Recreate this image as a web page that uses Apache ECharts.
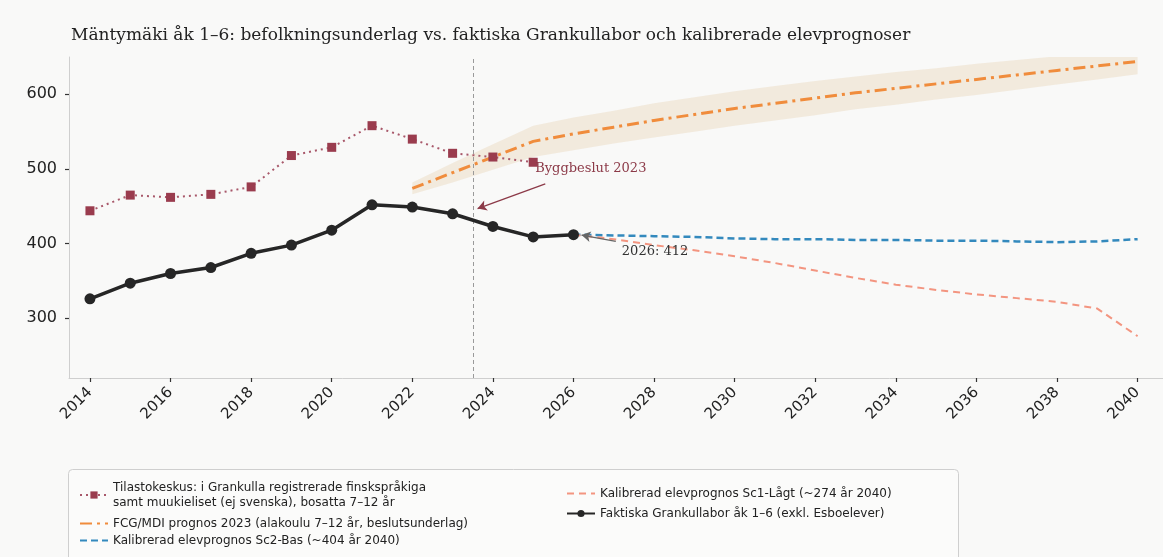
<!DOCTYPE html>
<html>
<head>
<meta charset="utf-8">
<title>Mäntymäki åk 1–6</title>
<script src="https://cdn.jsdelivr.net/npm/echarts@6/dist/echarts.min.js"></script>
<style>
  html, body { margin: 0; padding: 0; background: #f9f9f8; }
  #chart { width: 1163px; height: 557px; }
</style>
</head>
<body>
<div id="chart"></div>
<script>
// Tilastokeskus: finskspråkiga + muukieliset 7-12 år
const tilastoYears = [2014, 2015, 2016, 2017, 2018, 2019, 2020, 2021, 2022, 2023, 2024, 2025]
const tilastoValues = [444, 465, 462, 466, 476, 518, 529, 558, 540, 521, 516, 509]

// faktiska Grankullabor åk 1-6
const faktiskaYears = [2014, 2015, 2016, 2017, 2018, 2019, 2020, 2021, 2022, 2023, 2024, 2025, 2026]
const faktiskaValues = [326, 347, 360, 368, 387, 398, 418, 452, 449, 440, 423, 409, 412]

// FCG/MDI prognos 2023 + osäkerhetsband
const fcgYears = [2022, 2023, 2024, 2025, 2026, 2027, 2028, 2029, 2030, 2031, 2032, 2033, 2034, 2035, 2036, 2037, 2038, 2039, 2040]
const fcgValues = [474, 495, 516, 537, 547, 556, 565, 573, 581, 588, 595, 602, 608, 614, 620, 626, 632, 638, 644]
const fcgLow = [466, 482, 499, 516, 525, 534, 542, 550, 558, 565, 572, 580, 586, 593, 599, 606, 613, 620, 627]
const fcgHigh = [482, 508, 533, 558, 569, 578, 588, 596, 604, 611, 618, 624, 630, 635, 641, 646, 651, 656, 661]

// kalibrerade elevprognoser
const progYears = [2026, 2027, 2028, 2029, 2030, 2031, 2032, 2033, 2034, 2035, 2036, 2037, 2038, 2039, 2040]
const sc2Values = [412, 411, 410, 409, 407, 406, 406, 405, 405, 404, 404, 403, 402, 403, 406]
const sc1Values = [412, 406, 398, 391, 383, 374, 364, 354, 345, 338, 332, 327, 322, 313, 276]

const xTicks = [2014, 2016, 2018, 2020, 2022, 2024, 2026, 2028, 2030, 2032, 2034, 2036, 2038, 2040]
const yTicks = [300, 400, 500, 600]

const NAME_TILASTO = 'Tilastokeskus'
const NAME_FCG = 'FCG/MDI prognos 2023 (alakoulu 7–12 år, beslutsunderlag)'
const NAME_SC2 = 'Kalibrerad elevprognos Sc2-Bas (~404 år 2040)'
const NAME_SC1 = 'Kalibrerad elevprognos Sc1-Lågt (~274 år 2040)'
const NAME_FAKT = 'Faktiska Grankullabor åk 1–6 (exkl. Esboelever)'

const zip = (xs, ys) => xs.map((x, i) => [x, ys[i]])

const chart = echarts.init(document.getElementById('chart'))

const legendText = {
  fontFamily: 'DejaVu Sans',
  fontSize: 12,
  lineHeight: 15,
  color: '#222'
}
const legendBase = {
  orient: 'vertical',
  itemWidth: 28,
  itemHeight: 9,
  textStyle: legendText
}

// band runt FCG-prognosen: övre kant framåt, nedre kant bakåt
function renderBand(params, api) {
  const pts = []
  fcgYears.forEach((y, i) => pts.push(api.coord([y, fcgHigh[i]])))
  for (let i = fcgYears.length - 1; i >= 0; i--) {
    pts.push(api.coord([fcgYears[i], fcgLow[i]]))
  }
  return {
    type: 'polygon',
    shape: { points: pts },
    style: { fill: 'rgba(222, 190, 140, 0.24)' }
  }
}

chart.setOption({
  backgroundColor: '#f9f9f8',
  animation: false,
  title: {
    text: 'Mäntymäki åk 1–6: befolkningsunderlag vs. faktiska Grankullabor och kalibrerade elevprognoser',
    left: 66,
    top: 22,
    textStyle: {
      fontFamily: 'DejaVu Serif',
      fontWeight: 'normal',
      fontSize: 17,
      color: '#222'
    }
  },
  graphic: [
    {
      type: 'rect',
      left: 68,
      top: 469,
      shape: { width: 890, height: 100, r: 4 },
      style: { fill: '#fbfbfa', stroke: '#cfcfcf', lineWidth: 1 },
      z: 0
    }
  ],
  legend: [
    Object.assign({}, legendBase, {
      left: 74,
      top: 475,
      data: [NAME_TILASTO],
      formatter: () => 'Tilastokeskus: i Grankulla registrerade finskspråkiga\nsamt muukieliset (ej svenska), bosatta 7–12 år'
    }),
    Object.assign({}, legendBase, {
      left: 74,
      top: 511,
      itemGap: 2,
      data: [
        { name: NAME_FCG, itemStyle: { opacity: 0 } },
        { name: NAME_SC2, itemStyle: { opacity: 0 } }
      ]
    }),
    Object.assign({}, legendBase, {
      left: 561,
      top: 481,
      itemGap: 5,
      data: [
        { name: NAME_SC1, itemStyle: { opacity: 0 } },
        NAME_FAKT
      ]
    })
  ],
  grid: {
    left: 69,
    right: 0,
    top: 57,
    bottom: 179
  },
  xAxis: {
    type: 'value',
    min: 2013.48,
    max: 2040.63,
    splitLine: { show: false },
    axisLine: { lineStyle: { color: '#cfcfcf', width: 1 } },
    axisTick: {
      customValues: xTicks,
      length: 4,
      lineStyle: { color: '#333', width: 1.2 }
    },
    axisLabel: {
      customValues: xTicks,
      rotate: 45,
      margin: 12,
      fontFamily: 'DejaVu Sans',
      fontSize: 15,
      color: '#222',
      formatter: v => String(v)
    }
  },
  yAxis: {
    type: 'value',
    min: 220,
    max: 650,
    splitLine: { show: false },
    axisLine: { show: true, lineStyle: { color: '#cfcfcf', width: 1 } },
    axisTick: {
      show: true,
      customValues: yTicks,
      length: 4,
      lineStyle: { color: '#333', width: 1.2 }
    },
    axisLabel: {
      customValues: yTicks,
      margin: 12,
      fontFamily: 'DejaVu Sans',
      fontSize: 16,
      color: '#222'
    }
  },
  series: [
    {
      name: 'band',
      type: 'custom',
      renderItem: renderBand,
      data: [[fcgYears[0], fcgValues[0]]],
      clip: true,
      silent: true,
      z: 1
    },
    {
      name: NAME_TILASTO,
      type: 'line',
      data: zip(tilastoYears, tilastoValues),
      symbol: 'rect',
      symbolSize: 9,
      itemStyle: { color: '#9a3c4e' },
      lineStyle: { color: '#a8586a', width: 2, type: [2, 4] },
      z: 4,
      markLine: {
        silent: true,
        symbol: 'none',
        label: { show: false },
        lineStyle: { color: '#9a9a9a', width: 1, type: [4, 3] },
        data: [{ xAxis: 2023.5 }]
      }
    },
    {
      name: NAME_FCG,
      type: 'line',
      data: zip(fcgYears, fcgValues),
      symbol: 'none',
      itemStyle: { color: '#f08c3c' },
      lineStyle: { color: '#f08c3c', width: 3, type: [12, 5, 3, 5] },
      z: 3
    },
    {
      name: NAME_SC2,
      type: 'line',
      data: zip(progYears, sc2Values),
      symbol: 'none',
      itemStyle: { color: '#3389bd' },
      lineStyle: { color: '#3389bd', width: 2.5, type: [7, 4] },
      z: 3
    },
    {
      name: NAME_SC1,
      type: 'line',
      data: zip(progYears, sc1Values),
      symbol: 'none',
      itemStyle: { color: '#f39580' },
      lineStyle: { color: '#f39580', width: 2, type: [7, 5] },
      z: 3
    },
    {
      name: NAME_FAKT,
      type: 'line',
      data: zip(faktiskaYears, faktiskaValues),
      symbol: 'circle',
      symbolSize: 11,
      itemStyle: { color: '#262626' },
      lineStyle: { color: '#262626', width: 3.5 },
      z: 5,
      markLine: {
        silent: true,
        symbol: ['none', 'arrow'],
        symbolSize: [8, 9],
        label: { show: false },
        data: [
          [
            { coord: [2025.3, 480], lineStyle: { color: '#8c3a48', width: 1.3, type: 'solid' } },
            { coord: [2023.62, 447] }
          ],
          [
            { coord: [2027.05, 403], lineStyle: { color: '#666', width: 1.3, type: 'solid' } },
            { coord: [2026.2, 411.5] }
          ]
        ]
      },
      markPoint: {
        silent: true,
        symbol: 'circle',
        symbolSize: 0,
        data: [
          {
            coord: [2025.05, 500],
            label: {
              show: true,
              position: 'right',
              distance: 0,
              formatter: 'Byggbeslut 2023',
              fontFamily: 'DejaVu Serif',
              fontSize: 13,
              color: '#8c3a48'
            }
          },
          {
            coord: [2027.2, 389],
            label: {
              show: true,
              position: 'right',
              distance: 0,
              formatter: '2026: 412',
              fontFamily: 'DejaVu Serif',
              fontSize: 13,
              color: '#333'
            }
          }
        ]
      }
    }
  ]
})
</script>
</body>
</html>
